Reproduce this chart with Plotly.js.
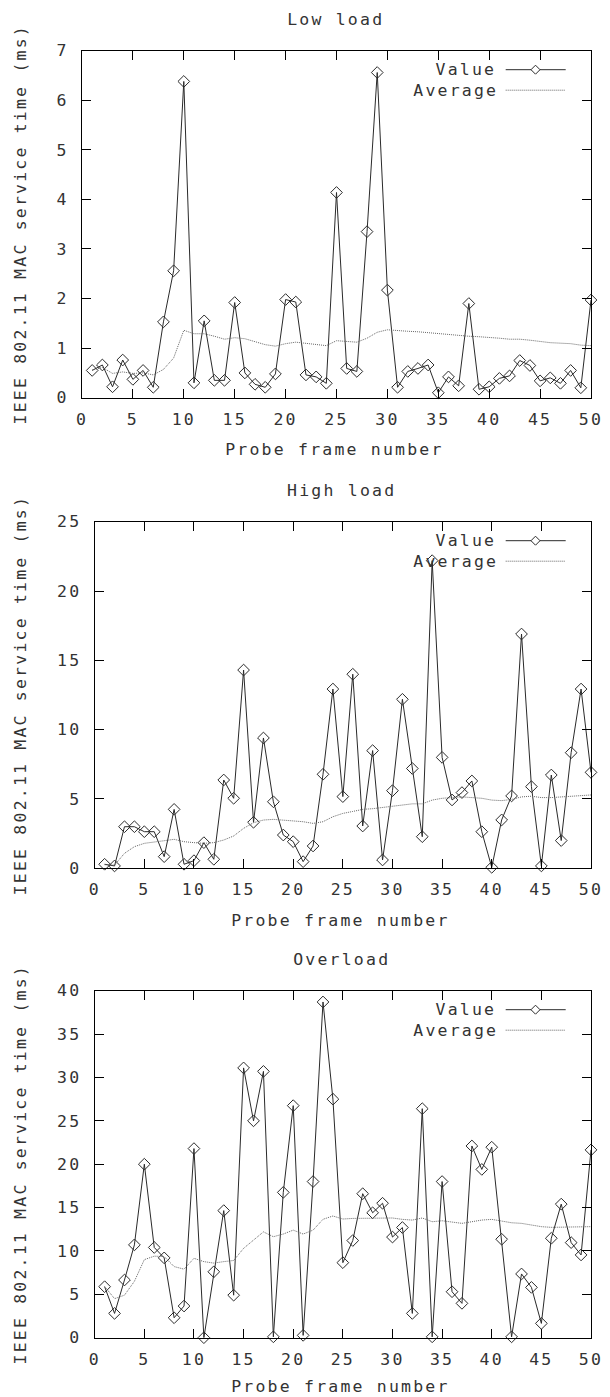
<!DOCTYPE html>
<html>
<head>
<meta charset="utf-8">
<script src="https://cdn.plot.ly/plotly-3.0.1.min.js"></script>
<style>
html,body{margin:0;padding:0;background:#fff;}
#chart text{letter-spacing:2.2px;}
</style>
</head>
<body>
<div id="chart" style="width:610px;height:1397px;"></div>
<script>
// ---- data ----
const frames = [1,2,3,4,5,6,7,8,9,10,11,12,13,14,15,16,17,18,19,20,21,22,23,24,25,26,27,28,29,30,31,32,33,34,35,36,37,38,39,40,41,42,43,44,45,46,47,48,49,50];

const panelTitles = ["Low load", "High load", "Overload"];
const seriesNames = ["Value", "Average"];
const xTitle = "Probe frame number";
const yTitle = "IEEE 802.11 MAC service time (ms)";
const yMax = [7, 25, 40];
const yStep = [1, 5, 5];

const lowValue = [0.55,0.66,0.22,0.76,0.37,0.55,0.21,1.53,2.56,6.38,0.30,1.55,0.35,0.35,1.92,0.50,0.27,0.21,0.48,1.98,1.93,0.46,0.42,0.29,4.14,0.59,0.53,3.35,6.56,2.17,0.21,0.53,0.59,0.66,0.10,0.42,0.24,1.90,0.17,0.22,0.39,0.44,0.75,0.65,0.34,0.40,0.29,0.55,0.20,1.97];
const lowAverage = [0.56,0.61,0.49,0.52,0.49,0.50,0.46,0.57,0.80,1.36,1.29,1.29,1.24,1.18,1.21,1.19,1.13,1.07,1.04,1.09,1.12,1.10,1.08,1.05,1.15,1.14,1.12,1.20,1.32,1.37,1.35,1.34,1.33,1.31,1.29,1.27,1.26,1.24,1.23,1.22,1.20,1.18,1.18,1.16,1.13,1.11,1.10,1.09,1.06,1.05];

const highValue = [0.29,0.17,3.0,3.0,2.64,2.64,0.84,4.25,0.29,0.55,1.85,0.65,6.37,5.05,14.3,3.32,9.4,4.8,2.4,1.92,0.48,1.61,6.78,12.93,5.17,14.0,3.05,8.49,0.60,5.6,12.19,7.2,2.28,22.19,8.0,4.93,5.46,6.3,2.64,0.07,3.49,5.22,16.9,5.89,0.17,6.73,2.0,8.34,12.93,6.92];
const highAverage = [0.26,0.23,1.08,1.56,1.80,1.92,1.99,2.09,1.92,1.85,1.80,1.85,2.04,2.33,2.88,3.29,3.48,3.53,3.48,3.43,3.36,3.24,3.36,3.72,3.96,4.10,4.25,4.30,4.40,4.50,4.58,4.65,4.65,4.92,5.05,5.10,5.15,5.10,5.05,4.92,4.88,4.97,5.15,5.20,5.10,5.10,5.15,5.20,5.29,5.29];

const overValue = [5.88,2.8,6.65,10.7,20.0,10.4,9.2,2.3,3.65,21.8,0.0,7.6,14.65,4.9,31.1,25.0,30.7,0.1,16.75,26.75,0.27,18.0,38.7,27.5,8.65,11.2,16.6,14.4,15.5,11.6,12.7,2.8,26.4,0.1,18.0,5.3,3.96,22.1,19.4,21.96,11.35,0.1,7.35,5.8,1.65,11.46,15.4,10.96,9.54,21.65];
const overAverage = [5.9,4.5,4.9,6.5,9.0,9.4,9.35,8.2,7.9,9.15,8.77,8.6,8.77,8.9,10.3,11.26,12.2,11.64,11.95,12.4,11.95,12.4,13.65,14.03,13.68,13.75,13.75,13.8,13.83,13.8,13.64,13.56,13.8,13.37,13.48,13.37,13.18,13.37,13.56,13.64,13.48,13.25,13.18,12.99,12.8,12.72,12.72,12.72,12.72,12.8];

const valueSets = [lowValue, highValue, overValue];
const averageSets = [lowAverage, highAverage, overAverage];

// ---- layout geometry (pixels in the 610x1397 page) ----
const W = 610, H = 1397;
const FONT = "DejaVu Sans Mono, monospace";
const FS = 16.5;
const TXT = "#333";
const plotBoxes = [
  {l: 82,   r: 591, t: 50.7,  b: 397.7},
  {l: 94.7, r: 591, t: 521.7, b: 868.3},
  {l: 94.7, r: 591, t: 990.7, b: 1337.7}
];

const traces = [];
const layout = {
  width: W, height: H,
  margin: {l: 0, r: 0, t: 0, b: 0},
  paper_bgcolor: "#fff", plot_bgcolor: "#fff",
  showlegend: false,
  font: {family: FONT, size: FS, color: TXT},
  annotations: [], shapes: []
};

plotBoxes.forEach((bx, i) => {
  const n = i === 0 ? "" : String(i + 1);
  const xa = "x" + n, ya = "y" + n;
  const common = {
    showline: true, linecolor: "#000", linewidth: 1, mirror: "ticks",
    ticks: "inside", ticklen: 9, tickcolor: "#000", tickwidth: 1,
    showgrid: false, zeroline: false, fixedrange: true,
    tickfont: {family: FONT, size: FS, color: TXT}
  };
  layout["xaxis" + n] = Object.assign({}, common, {
    domain: [bx.l / W, bx.r / W], anchor: ya,
    range: [0, 50], tick0: 0, dtick: 5, ticklabelstandoff: 6
  });
  layout["yaxis" + n] = Object.assign({}, common, {
    domain: [1 - bx.b / H, 1 - bx.t / H], anchor: xa,
    range: [0, yMax[i]], tick0: 0, dtick: yStep[i], ticklabelstandoff: 9
  });

  traces.push({
    x: frames, y: valueSets[i], xaxis: xa, yaxis: ya, name: seriesNames[0],
    type: "scatter", mode: "lines+markers", cliponaxis: false,
    line: {color: "#2a2a2a", width: 1},
    marker: {symbol: "diamond-open", size: 9, color: "#2a2a2a", line: {width: 1, color: "#2a2a2a"}}
  });
  traces.push({
    x: frames, y: averageSets[i], xaxis: xa, yaxis: ya, name: seriesNames[1],
    type: "scatter", mode: "lines",
    line: {color: "#666", width: 1, dash: "1px,1px"}
  });

  const cx = (bx.l + bx.r) / 2;
  // panel title
  layout.annotations.push({
    text: panelTitles[i], xref: "paper", yref: "paper",
    x: (cx - 1) / W, y: 1 - (bx.t - 31) / H, xanchor: "center", yanchor: "middle",
    showarrow: false, font: {family: FONT, size: FS, color: TXT}
  });
  // x title
  const xtY = Math.min(bx.b + 52, H - 11);
  layout.annotations.push({
    text: xTitle, xref: "paper", yref: "paper",
    x: (cx - 2) / W, y: 1 - xtY / H, xanchor: "center", yanchor: "middle",
    showarrow: false, font: {family: FONT, size: FS, color: TXT}
  });
  // y title
  layout.annotations.push({
    text: yTitle, xref: "paper", yref: "paper", textangle: -90,
    x: 20 / W, y: 1 - ((bx.t + bx.b) / 2) / H, xanchor: "center", yanchor: "middle",
    showarrow: false, font: {family: FONT, size: FS, color: TXT}
  });
  // legend (text, then sample on the right, gnuplot style)
  const rowY = [bx.t + 19, bx.t + 39.5];
  seriesNames.forEach((nm, k) => {
    layout.annotations.push({
      text: nm, xref: "paper", yref: "paper",
      x: 493 / W, y: 1 - rowY[k] / H, xanchor: "right", yanchor: "middle",
      showarrow: false, font: {family: FONT, size: FS, color: TXT}
    });
    layout.shapes.push({
      type: "line", xref: "paper", yref: "paper",
      x0: 505.7 / W, x1: 565.7 / W, y0: 1 - rowY[k] / H, y1: 1 - rowY[k] / H,
      line: k === 0 ? {color: "#2a2a2a", width: 1} : {color: "#666", width: 1, dash: "1px,1px"}
    });
  });
  layout.shapes.push({
    type: "path", xref: "paper", yref: "paper",
    xsizemode: "pixel", ysizemode: "pixel",
    xanchor: 535.5 / W, yanchor: 1 - rowY[0] / H,
    path: "M0,4.5 L4.5,0 L0,-4.5 L-4.5,0 Z",
    fillcolor: "#fff", line: {color: "#2a2a2a", width: 1}
  });
});

Plotly.newPlot("chart", traces, layout, {displayModeBar: false, staticPlot: true});
</script>
</body>
</html>
